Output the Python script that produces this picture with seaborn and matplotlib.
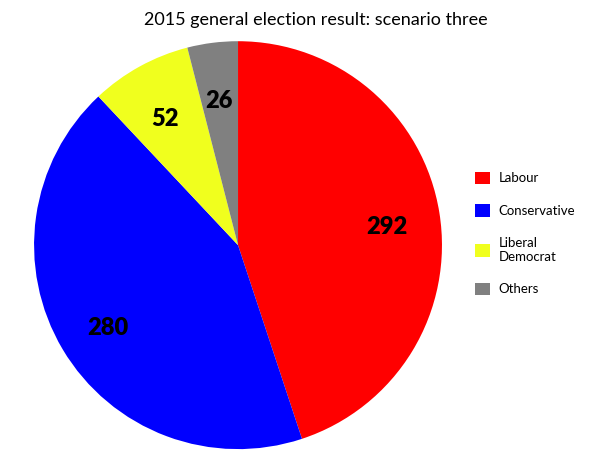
import matplotlib
matplotlib.use("Agg")
import matplotlib.pyplot as plt
import matplotlib.transforms as mtransforms
import seaborn as sns

# 2015 general election, scenario three seats
parties = ["Labour", "Conservative", "Liberal\nDemocrat", "Others"]
seats = [292, 280, 52, 26]
colours = ["#FF0000", "#0000FF", "#F0FF1E", "#808080"]

sns.set_theme(style="white")
plt.rcParams['font.family'] = ['Lato', 'DejaVu Sans']
plt.rcParams['text.color'] = 'black'

fig = plt.figure(figsize=(6, 4.63), dpi=100)
ax = fig.add_axes([0.0567, 0.030, 0.68, 0.881])

wedges, texts = ax.pie(seats, labels=[str(s) for s in seats], colors=sns.color_palette(colours),
                       startangle=90, counterclock=False, labeldistance=0.74,
                       wedgeprops=dict(linewidth=0))
# nudge the seat numbers down a few pixels
shift = mtransforms.offset_copy(ax.transData, fig=fig, x=0, y=-4, units="dots")
for t in texts:
    t.set_transform(shift)
    t.set_fontsize(17)
    t.set_fontweight("heavy")
    t.set_color("black")
    t.set_ha("center")
    t.set_va("center_baseline")
ax.set_xlim(-1, 1)
ax.set_ylim(-1, 1)
ax.set_aspect("equal")

fig.suptitle("2015 general election result: scenario three", x=0.527, y=0.975,
             fontsize=13, color="black")

fig.legend(wedges, parties, loc="upper left", bbox_to_anchor=(0.772, 0.655), frameon=False,
           fontsize=9.5, handlelength=1.1, handleheight=1.1, handletextpad=0.7,
           labelspacing=1.5)

fig.savefig("out.png", dpi=100)
